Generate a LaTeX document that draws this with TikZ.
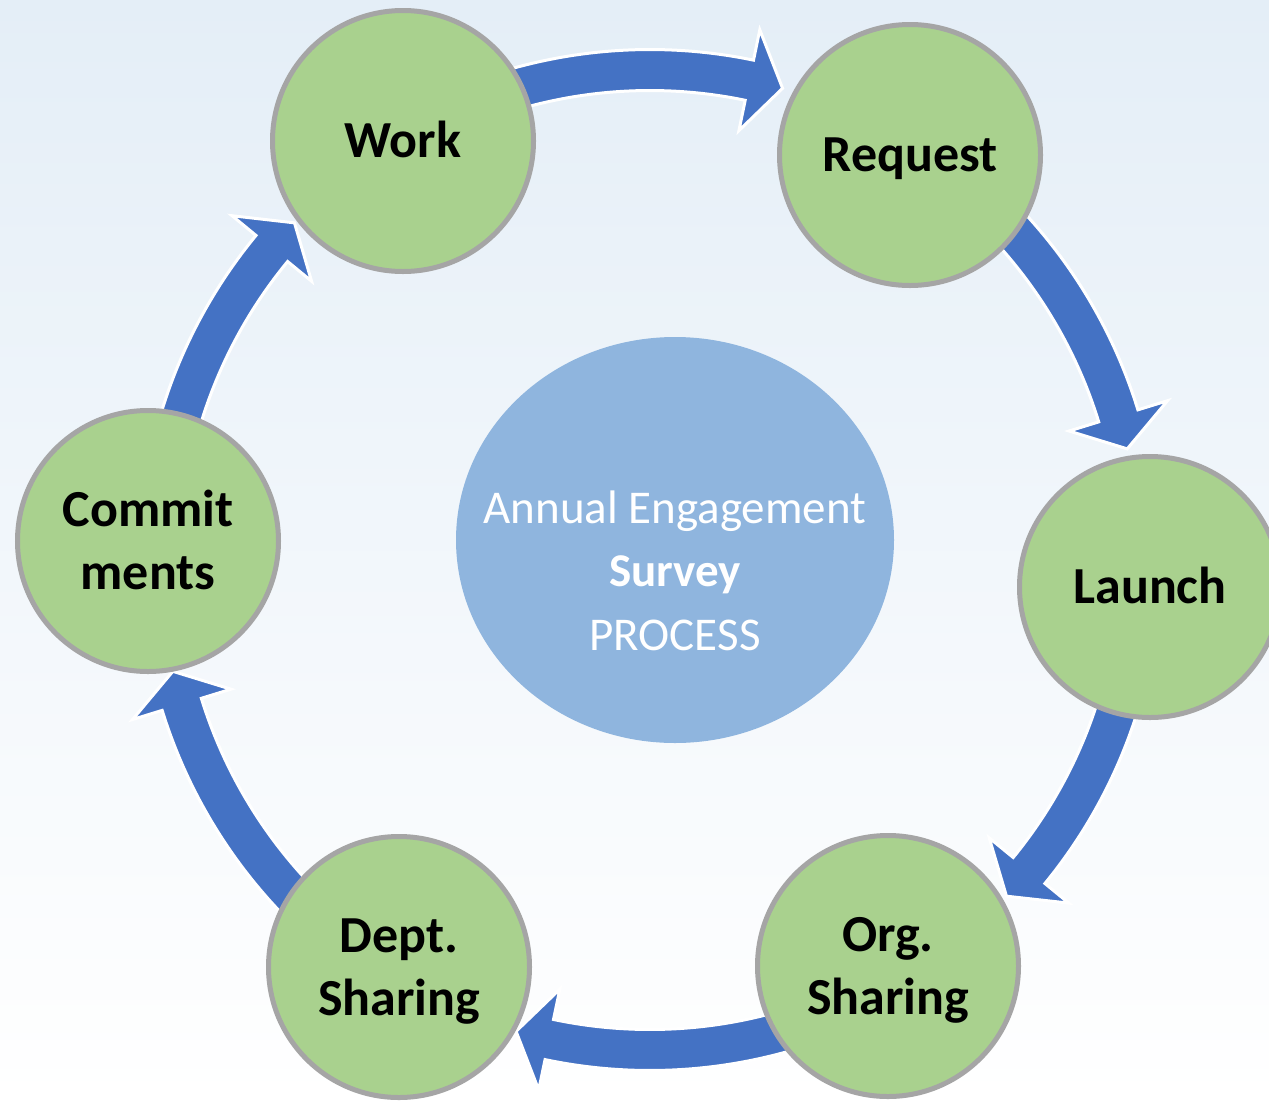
\documentclass[tikz,border=0pt]{standalone}
\usepackage{fontspec}
\setmainfont{Carlito}
\usetikzlibrary{shapes.geometric,calc}
\definecolor{nodegreen}{HTML}{A9D18E}
\definecolor{nodegray}{HTML}{A5A5A5}
\definecolor{hubblue}{HTML}{8FB5DE}
\definecolor{arrowblue}{HTML}{4472C4}
\definecolor{bgtop}{HTML}{E4EEF7}
\pgfdeclarelayer{back}
\pgfdeclarelayer{mid}
\pgfsetlayers{back,mid,main}
\tikzset{
  stage/.style={circle, fill=nodegreen, draw=nodegray, line width=5pt,
    minimum size=261pt, inner sep=0pt, align=center,
    font=\bfseries\fontsize{52pt}{63pt}\selectfont, text depth=0pt},
  oneline/.style={text height=33.5pt},
  twoline/.style={text height=96.5pt},
  cycarrow/.style={fill=arrowblue, draw=white, line width=3pt, line join=miter},
  hubshape/.style={ellipse, fill=hubblue, draw=none, minimum width=438pt,
    minimum height=406pt, inner sep=0pt},
  titletext/.style={align=center, text=white, inner sep=0pt,
    font=\fontsize{47pt}{63.5pt}\selectfont, text height=220pt, text depth=0pt},
}
% block arrow along the ring around (hub), from node #1 to node #2;
% #3 = angle between the tip and the target node
\newcommand\cyclearrow[3]{%
  \filldraw[cycarrow] let \p1=($(#1)-(hub)$), \p2=($(#2)-(hub)$),
    \n1={atan2(\y1,\x1)}, \n2={atan2(\y2,\x2)},
    \n3={\n1-8}, \n4={\n1-mod(\n1-\n2+720,360)+#3+4}, \n5={\n4-4}
  in ([shift={(hub)}]\n3:510.5pt) arc[start angle=\n3, end angle=\n4, radius=510.5pt]
    -- ([shift={(hub)}]\n4:541.5pt) -- ([shift={(hub)}]\n5:490pt)
    -- ([shift={(hub)}]\n4:438.5pt) -- ([shift={(hub)}]\n4:469.5pt)
    arc[start angle=\n4, end angle=\n3, radius=469.5pt] -- cycle;}
\begin{document}
\begin{tikzpicture}[x=1pt, y=1pt]
  \useasboundingbox (0,0) rectangle (1269,-1101);
  \clip (0,0) rectangle (1269,-1101);
  \begin{pgfonlayer}{back}
    \fill[top color=bgtop, bottom color=white] (0,0) rectangle (1269,-1101);
  \end{pgfonlayer}
  \coordinate (hub) at (650,-560);
  \node[stage, oneline] (work)    at (403,-141)  {Work};
  \node[stage, oneline] (request) at (910,-155)  {Request};
  \node[stage, oneline] (launch)  at (1150,-587) {Launch};
  \node[stage, twoline] (org)     at (888,-966)  {Org.\\Sharing};
  \node[stage, twoline] (dept)    at (399,-967)  {Dept.\\Sharing};
  \node[stage, twoline] (comm)    at (148,-541)  {Commit\\ments};
  \node[hubshape] (center) at (675,-540) {};
  \node[titletext] (title) at (center.center) {Annual Engagement\\\textbf{Survey}\\PROCESS};
  \begin{pgfonlayer}{mid}
    \cyclearrow{work}{request}{17}
    \cyclearrow{request}{launch}{16.2}
    \cyclearrow{launch}{org}{16.3}
    \cyclearrow{org}{dept}{15.8}
    \cyclearrow{dept}{comm}{15.3}
    \cyclearrow{comm}{work}{16}
  \end{pgfonlayer}
\end{tikzpicture}
\end{document}
